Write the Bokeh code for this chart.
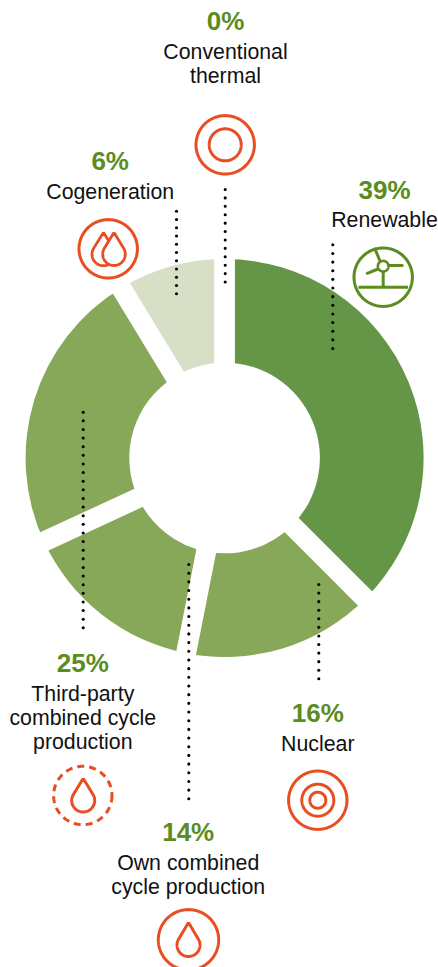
import numpy as np
from bokeh.plotting import figure
from bokeh.models import Range1d
from bokeh.core.properties import value
from bokeh.embed import file_html
from bokeh.resources import INLINE

# ---- data ----
categories = ["Renewable", "Nuclear", "Own combined cycle production",
              "Third-party combined cycle production", "Cogeneration", "Conventional thermal"]
percent_labels = ["39%", "16%", "14%", "25%", "6%", "0%"]
# clockwise share of the ring actually drawn for each slice (measured on the picture)
drawn_share = [37.5, 15.6, 15.0, 23.2, 8.7, 0.0]
label_lines = [["Renewable"], ["Nuclear"], ["Own combined", "cycle production"],
               ["Third-party", "combined cycle", "production"], ["Cogeneration"],
               ["Conventional", "thermal"]]

# ---- layout and styles (page pixels) ----
W, H = 438, 967
CX, CY, R_OUT, R_IN = 224.1, 457.5, 199.0, 95.3
GAP = 20
slice_colors = ["#659647", "#87A858", "#87A858", "#87A858", "#D7E0C7", "#D7E0C7"]
GREEN, ORANGE, INK = "#5B8C1E", "#E84E22", "#111111"
FONT = value("Liberation Sans")
PCT_SHIFT, LABEL_SHIFT = 9.8, 8.0

def Y(py):
    return 967 - np.asarray(py, dtype=float)

p = figure(width=W, height=H, x_range=Range1d(0, 438), y_range=Range1d(0, 967),
           output_backend="svg", toolbar_location=None,
           x_axis_location=None, y_axis_location=None, min_border=0)
p.grid.visible = False
p.outline_line_color = None
p.background_fill_color = None
p.border_fill_color = None

# ---- ring ----
share = np.array(drawn_share, dtype=float)
edges = np.pi / 2 - 2 * np.pi * np.concatenate([[0], np.cumsum(share)]) / share.sum()
drawn = np.nonzero(share > 0)[0]
p.annular_wedge(x=[CX] * len(drawn), y=[float(Y(CY))] * len(drawn), inner_radius=R_IN, outer_radius=R_OUT,
                start_angle=edges[drawn].tolist(), end_angle=edges[drawn + 1].tolist(), direction="clock",
                fill_color=[slice_colors[i] for i in drawn], line_color=None)
p.segment(x0=[CX] * len(edges), y0=[float(Y(CY))] * len(edges),
          x1=(CX + (R_OUT + 2) * np.cos(edges)).tolist(), y1=(Y(CY) + (R_OUT + 2) * np.sin(edges)).tolist(),
          line_color="white", line_width=GAP, line_cap="butt")

# ---- dotted leaders ----
leaders = [(332.3, 244.3, 348.0), (318.3, 584.0, 678.3), (188.3, 564.0, 798.3),
           (82.7, 411.7, 627.3), (176.0, 210.7, 293.3), (224.7, 189.0, 281.5)]
for lx, y0, y1 in leaders:
    n = int(round((y1 - y0) / 8.6))
    ys = y0 + (y1 - y0) * np.arange(n + 1) / n
    p.scatter(x=[lx] * (n + 1), y=Y(ys).tolist(), size=3.1, marker="circle",
              fill_color="black", line_color=None)

# ---- texts ----
pct_pos = [(384, 199), (317.3, 722.3), (187.7, 841), (82.3, 672.3), (109.7, 170.7), (225, 30.7)]
first_base = [227.3, 751, 870, 701, 199, 59.3]
for lab, (tx, ty), lines, base in zip(percent_labels, pct_pos, label_lines, first_base):
    p.text(x=[tx], y=[float(Y(ty - PCT_SHIFT))], text=[lab], text_align="center", text_baseline="alphabetic",
           text_font=FONT, text_font_size="26px", text_font_style="bold", text_color=GREEN)
    for i, t in enumerate(lines):
        p.text(x=[tx], y=[float(Y(base - LABEL_SHIFT + 24 * i))], text=[t], text_align="center",
               text_baseline="alphabetic", text_font=FONT, text_font_size="21.3px", text_color=INK)

# ---- icons ----
def ring(cx, cy, r, color=ORANGE, dash="solid", lw=3):
    t = np.linspace(0, 2 * np.pi, 121)
    p.line((cx + r * np.cos(t)).tolist(), Y(cy + r * np.sin(t)).tolist(),
           line_color=color, line_width=lw, line_dash=dash)

def drop(cx, top, bulb_cy, r, color=ORANGE, lw=3, fill=None):
    a = np.arcsin(r / (bulb_cy - top))
    th = np.linspace(-a, np.pi + a, 60)
    xs = np.concatenate([[cx], cx + r * np.cos(th), [cx]])
    ys = np.concatenate([[top], bulb_cy + r * np.sin(th), [top]])
    if fill:
        p.patch(xs.tolist(), Y(ys).tolist(), fill_color=fill, line_color=None)
    p.line(xs.tolist(), Y(ys).tolist(), line_color=color, line_width=lw, line_join="miter")

# conventional thermal
ring(224.7, 144.3, 29.2); ring(224.7, 144.3, 16)
# cogeneration
ring(107.7, 248.3, 29.2)
drop(103, 232, 253.7, 11.5, lw=2.8)
drop(113.5, 232, 253.7, 11.3, lw=2.8, fill="white")
# nuclear
ring(317.3, 799.7, 29.2); ring(317.3, 799.7, 16); ring(317.3, 799.7, 8)
# third-party
ring(82.3, 795, 29.2, dash="7 5")
drop(82.7, 778, 800, 11.5)
# own
ring(188, 939.3, 30.2)
drop(188, 922, 944.5, 11.5)
# renewable
ring(382.7, 276.7, 29.2, color=GREEN)
hub = (382.7, 265.7)
p.segment(x0=[382.7, 358], y0=Y([271, 286.7]).tolist(), x1=[382.7, 407.5], y1=Y([286.7, 286.7]).tolist(),
          line_color=GREEN, line_width=3)
p.segment(x0=[379.5, 388.5, 377.5], y0=Y([260.5, 265, 268.5]).tolist(),
          x1=[374.5, 401.7, 366.7], y1=Y([248.5, 265, 272.8]).tolist(),
          line_color=GREEN, line_width=3, line_cap="round")
ring(hub[0], hub[1], 5.3, color=GREEN, lw=2.6)

open("out.html", "w").write(file_html(p, INLINE))
